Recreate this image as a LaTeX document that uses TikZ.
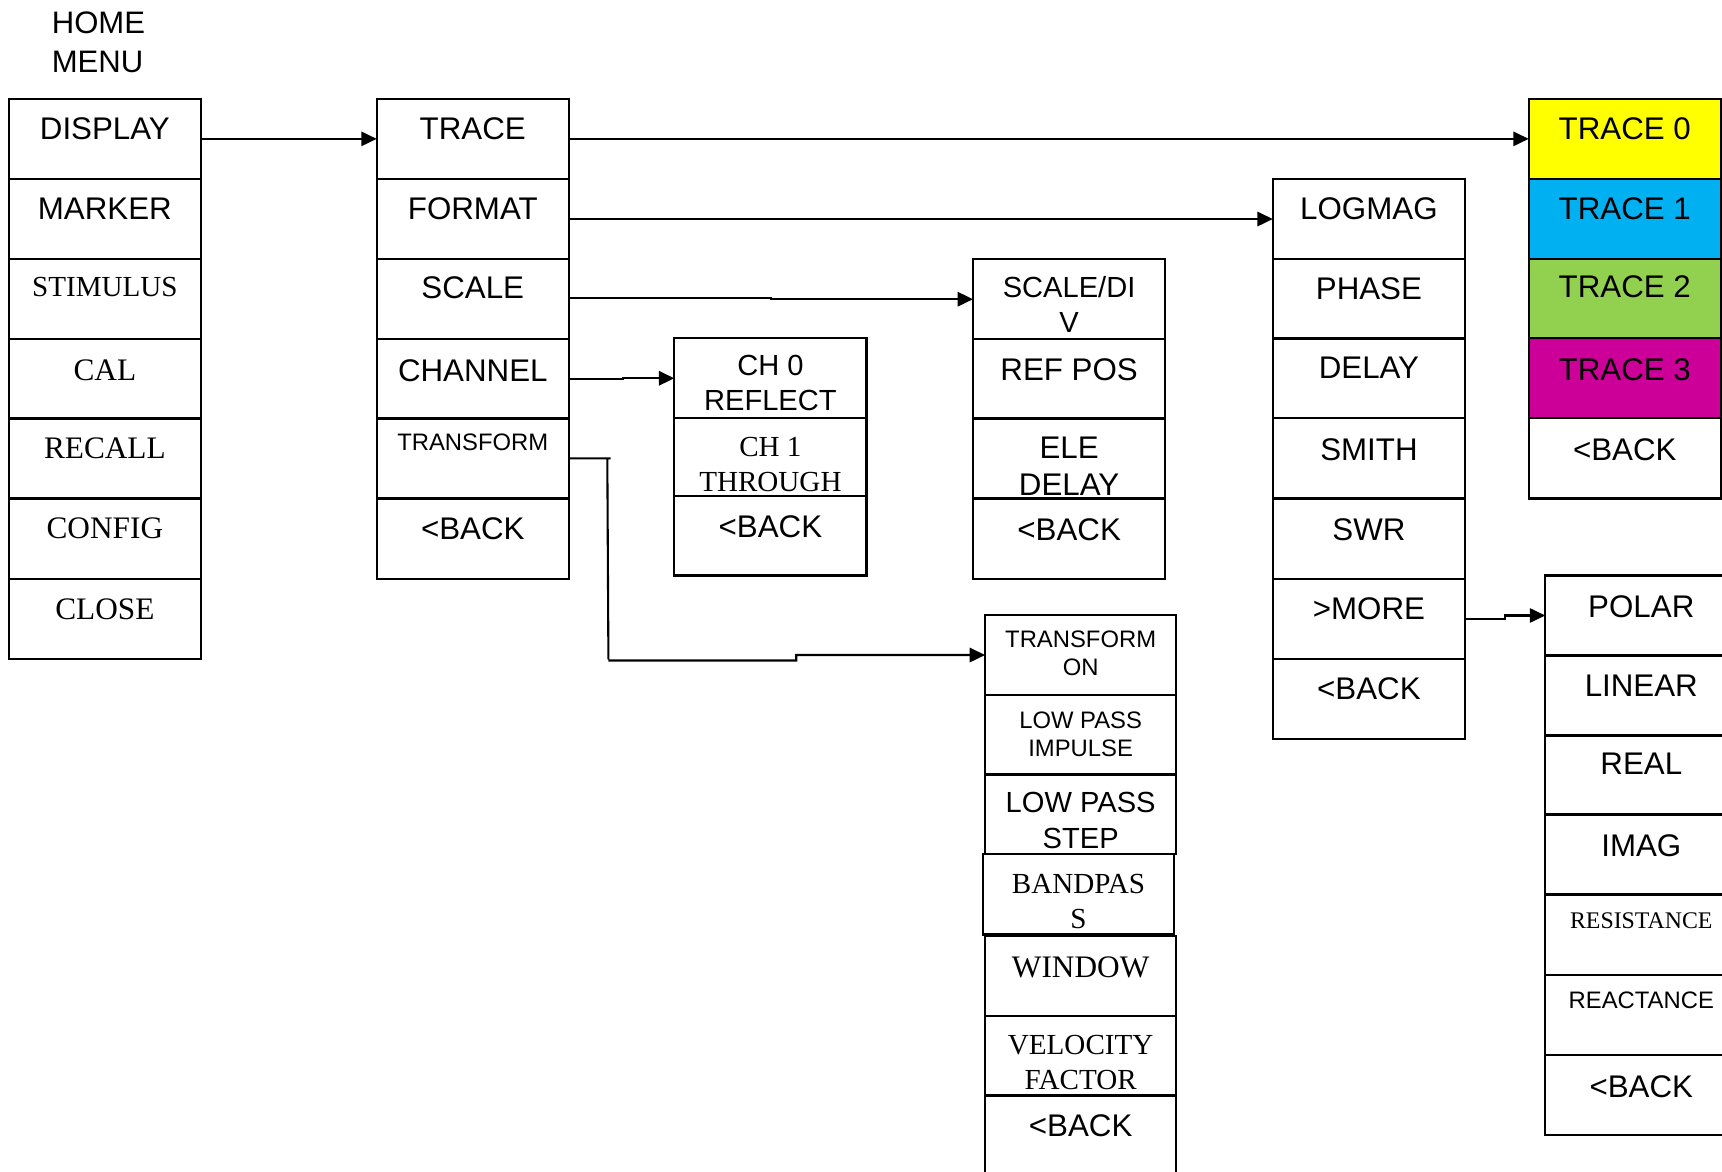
\documentclass[tikz,border=0pt]{standalone}
\usepackage{fontspec}
\setmainfont{Liberation Serif}
\setsansfont{Liberation Sans}
\usetikzlibrary{arrows.meta}

\definecolor{trYellow}{HTML}{FFFF00}
\definecolor{trBlue}{HTML}{00B0F0}
\definecolor{trGreen}{HTML}{92D050}
\definecolor{trMagenta}{HTML}{CC0099}

\tikzset{
  cell/.style={draw=black, line width=1.9pt, anchor=north west,
    minimum width=175pt, minimum height=72.9pt, inner sep=0pt, outer sep=0pt},
  txt/.style={anchor=north, inner sep=0pt, align=center},
  sfA/.style={font=\sffamily\fontsize{28.5}{33}\selectfont},
  sfB/.style={font=\sffamily\fontsize{26.5}{32}\selectfont},
  sfC/.style={font=\sffamily\fontsize{21.7}{25.5}\selectfont},
  rmA/.style={font=\rmfamily\fontsize{28.5}{33}\selectfont},
  rmB/.style={font=\rmfamily\fontsize{26.5}{32}\selectfont},
  rmC/.style={font=\rmfamily\fontsize{21.7}{25.5}\selectfont},
  arr/.style={line width=1.9pt, -{Triangle[length=14pt,width=13pt]}},
}

% \mcell{name}{x}{y top}{cell options}{font style}{text drop}{text}
\newcommand\mcell[7]{%
  \node[cell,#4] (#1) at (#2,#3) {};
  \node[txt,#5] (#1-t) at ([yshift=-#6pt]#1.north) {#7};}

\begin{document}
\begin{tikzpicture}[x=1pt,y=-1pt]
\useasboundingbox (0,0) rectangle (1568,1067);

\node[anchor=north west, inner sep=0pt, align=left, font=\sffamily\fontsize{28.3}{35}\selectfont]
  (home) at (47,11) {HOME\\MENU};

% home menu
\mcell{display}{8}{90}{}{sfA}{17}{DISPLAY}
\mcell{marker}{8}{163}{}{sfA}{17}{MARKER}
\mcell{stimulus}{8}{236}{}{rmB}{16}{STIMULUS}
\mcell{cal}{8}{309}{}{rmA}{18.6}{CAL}
\mcell{recall}{8}{381}{}{rmA}{17.6}{RECALL}
\mcell{config}{8}{454}{}{rmA}{17.6}{CONFIG}
\mcell{close}{8}{527}{}{rmA}{17.6}{CLOSE}

% display menu
\mcell{trace}{343}{90}{}{sfA}{17}{TRACE}
\mcell{format}{343}{163}{}{sfA}{17}{FORMAT}
\mcell{scale}{343}{236}{}{sfA}{16}{SCALE}
\mcell{channel}{343}{309}{}{sfA}{18}{CHANNEL}
\mcell{transform}{343}{381}{}{sfC}{14}{TRANSFORM}
\mcell{backA}{343}{454}{}{sfA}{17}{<BACK}

% channel menu
\mcell{chzero}{614}{308}{}{sfB}{15.5}{CH 0\\REFLECT}
\mcell{chone}{614}{381}{minimum height=71pt}{rmB}{17}{CH 1\\THROUGH}
\mcell{backB}{614}{452}{minimum height=72pt}{sfA}{17}{<BACK}

% scale menu
\mcell{scalediv}{886}{236}{}{sfB}{15.5}{SCALE/DI\\V}
\mcell{refpos}{886}{309}{}{sfA}{17}{REF POS}
\mcell{eledelay}{886}{381}{}{sfA}{17}{ELE\\DELAY}
\mcell{backC}{886}{454}{}{sfA}{18}{<BACK}

% transform menu
\mcell{transon}{897}{560}{minimum width=174pt}{sfC}{14}{TRANSFORM\\ON}
\mcell{lpimp}{897}{633}{minimum width=174pt}{sfC}{15}{LOW PASS\\IMPULSE}
\mcell{lpstep}{897}{705}{minimum width=174pt}{sfB}{16.5}{LOW PASS\\STEP}
\mcell{bandpass}{895}{778}{minimum width=174pt}{rmB}{18}{BANDPAS\\S}
\mcell{window}{897}{852}{minimum width=174pt}{rmA}{18.6}{WINDOW}
\mcell{velocity}{897}{925}{minimum width=174pt}{rmB}{17}{VELOCITY\\FACTOR}
\mcell{backD}{897}{997}{minimum width=174pt, minimum height=80pt}{sfA}{18}{<BACK}

% format menu
\mcell{logmag}{1159}{163}{}{sfA}{17}{LOGMAG}
\mcell{phase}{1159}{236}{}{sfA}{17}{PHASE}
\mcell{delay}{1159}{308}{}{sfA}{17}{DELAY}
\mcell{smith}{1159}{381}{}{sfA}{18}{SMITH}
\mcell{swr}{1159}{454}{}{sfA}{18}{SWR}
\mcell{more}{1159}{527}{}{sfA}{17}{>MORE}
\mcell{backE}{1159}{600}{}{sfA}{17}{<BACK}

% trace menu
\mcell{trzero}{1392}{90}{fill=trYellow}{sfA}{17}{TRACE 0}
\mcell{trone}{1392}{163}{fill=trBlue}{sfA}{17}{TRACE 1}
\mcell{trtwo}{1392}{236}{fill=trGreen}{sfA}{15}{TRACE 2}
\mcell{trthree}{1392}{308}{fill=trMagenta}{sfA}{18}{TRACE 3}
\mcell{backF}{1392}{381}{}{sfA}{18}{<BACK}

% more formats
\mcell{polar}{1407}{524}{}{sfA}{18}{POLAR}
\mcell{linear}{1407}{597}{}{sfA}{17}{LINEAR}
\mcell{real}{1407}{669}{}{sfA}{16}{REAL}
\mcell{imag}{1407}{741}{}{sfA}{19}{IMAG}
\mcell{resist}{1407}{815}{}{rmC}{16}{RESISTANCE}
\mcell{react}{1407}{888}{}{sfC}{15}{REACTANCE}
\mcell{backG}{1407}{961}{}{sfA}{18}{<BACK}

% connectors
\draw[arr] (display.east) -- (trace.west);
\draw[arr] (trace.east) -- (trzero.west);
\draw[arr] (format.east) -- (logmag.west);
\draw[arr] ([yshift=1.5pt]scale.east) -- ++(184,0) |- (scalediv.west);
\draw[arr] (channel.east) -- ++(49,0) |- (chzero.west);
\draw[arr] (transform.east) -- ++(38,0) ++(-3,0) -- ++(1,183) ++(0,1) -- ++(171,0) |- (transon.west);
\draw[arr] (more.east) -- ++(36,0) |- (polar.west);
\end{tikzpicture}
\end{document}
